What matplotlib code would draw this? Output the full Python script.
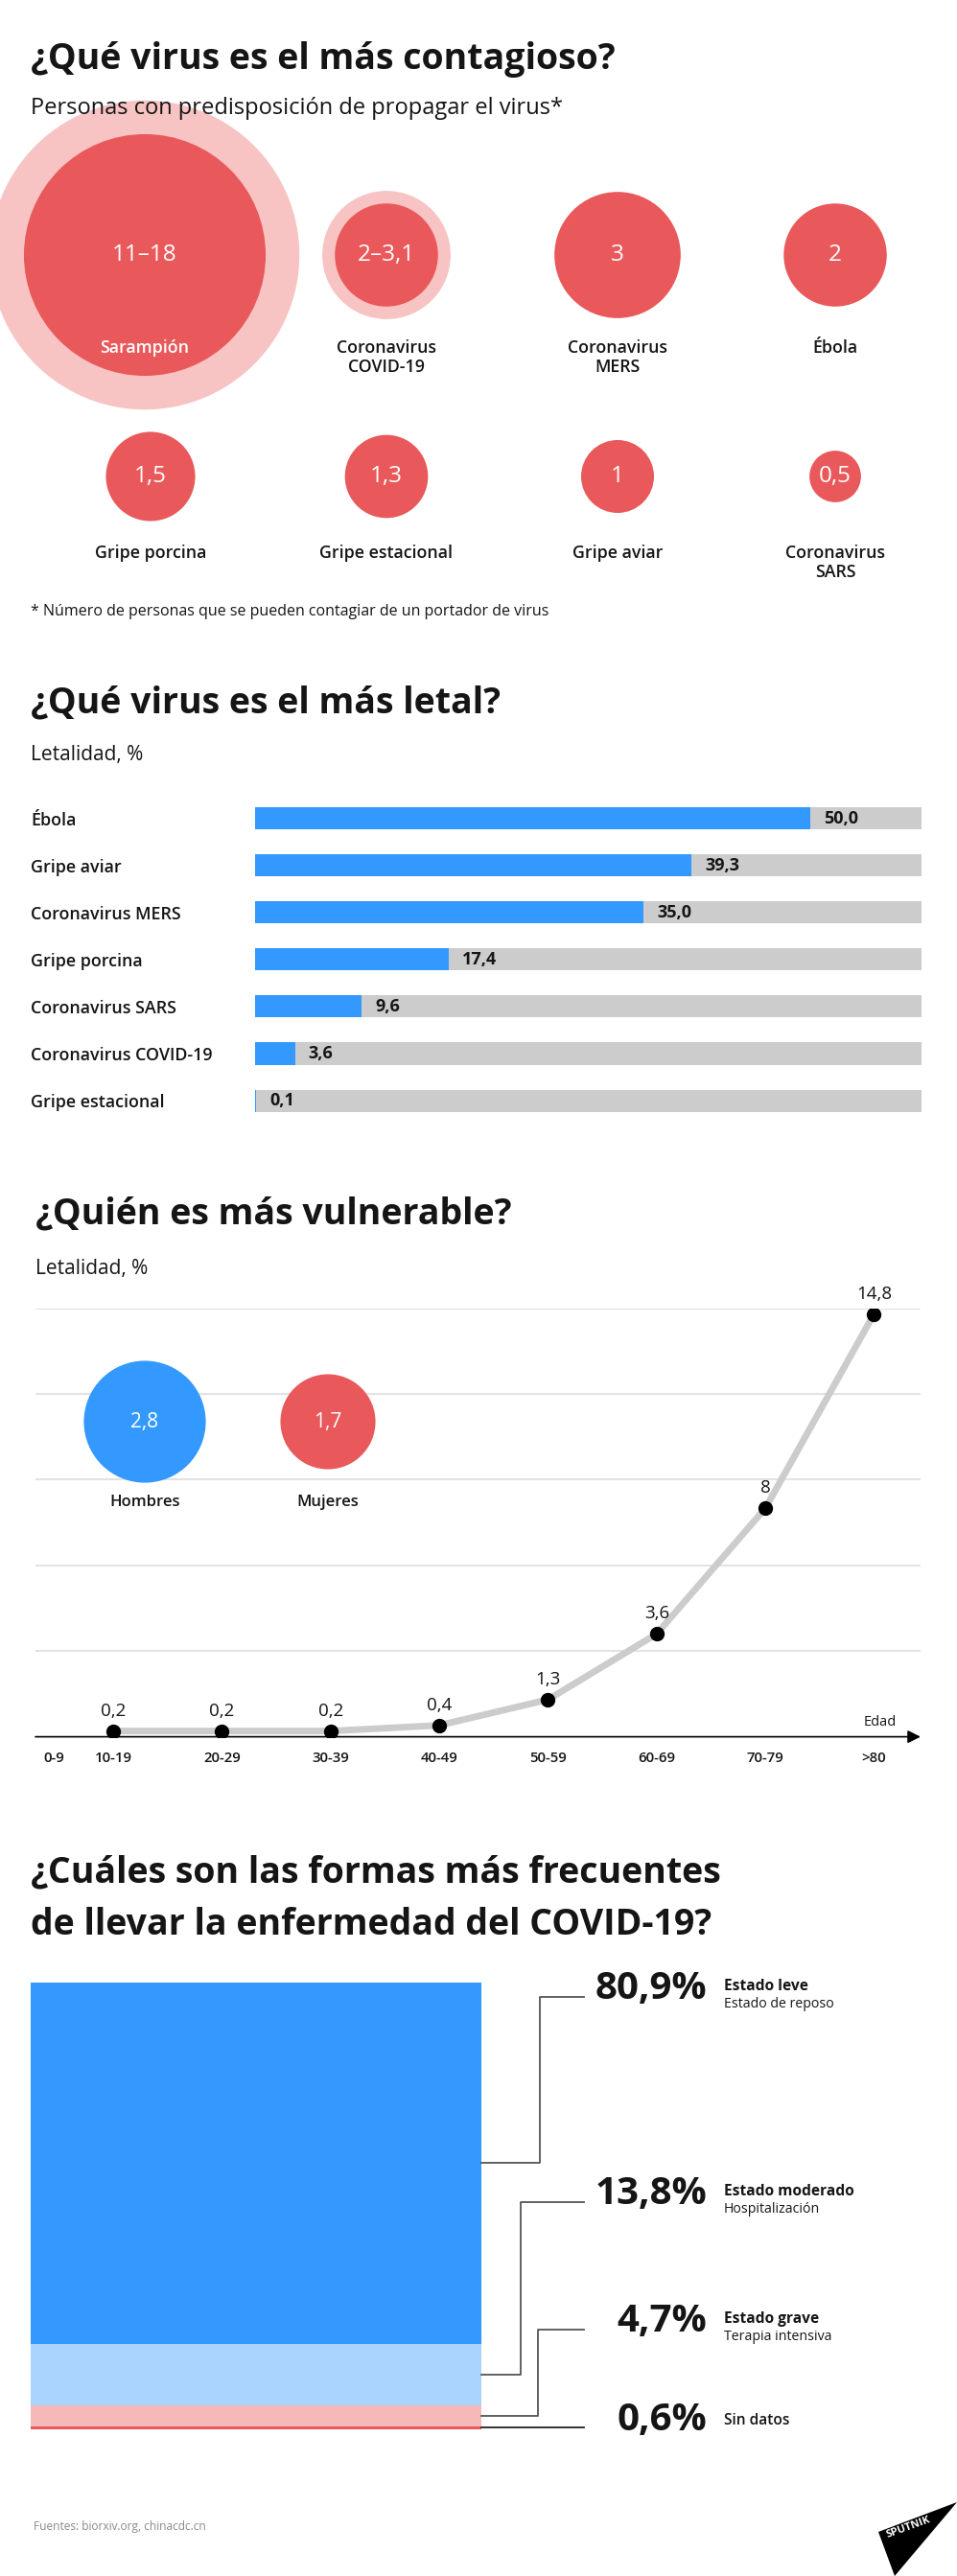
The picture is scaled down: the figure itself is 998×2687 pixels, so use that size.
import numpy as np
import matplotlib
matplotlib.use('Agg')
import matplotlib.pyplot as plt
from matplotlib.patches import Circle, Polygon

plt.rcParams['font.family'] = ['Open Sans', 'DejaVu Sans']

W, H = 998, 2687

## data
cont_names = ['Sarampión', 'Coronavirus\nCOVID-19', 'Coronavirus\nMERS', 'Ébola',
              'Gripe porcina', 'Gripe estacional', 'Gripe aviar', 'Coronavirus\nSARS']
cont_low = [11, 2, 3, 2, 1.5, 1.3, 1, 0.5]
cont_high = [18, 3.1, None, None, None, None, None, None]

let_names = ['Ébola', 'Gripe aviar', 'Coronavirus MERS', 'Gripe porcina',
             'Coronavirus SARS', 'Coronavirus COVID-19', 'Gripe estacional']
let_vals = [50.0, 39.3, 35.0, 17.4, 9.6, 3.6, 0.1]
let_max = 60

age_groups = ['0-9', '10-19', '20-29', '30-39', '40-49', '50-59', '60-69', '70-79', '>80']
age_vals = [0.2, 0.2, 0.2, 0.4, 1.3, 3.6, 8, 14.8]   # 10-19 ... >80 (0-9 no data)
sex_names = ['Hombres', 'Mujeres']
sex_vals = [2.8, 1.7]

form_pct = [80.9, 13.8, 4.7, 0.6]
form_names = ['Estado leve', 'Estado moderado', 'Estado grave', 'Sin datos']
form_sub = ['Estado de reposo', 'Hospitalización', 'Terapia intensiva', '']

BLUE = '#3399ff'
RED = '#e9585a'
PINK = '#f7c3c3'
INK = '#151515'
TITLE = 27


def fmt(v):
    return ('%g' % v).replace('.', ',')


fig = plt.figure(figsize=(W / 100, H / 100), dpi=100)
fig.patch.set_facecolor('white')


def px_axes(x0, y0, x1, y1):
    return fig.add_axes([x0 / W, 1 - y1 / H, (x1 - x0) / W, (y1 - y0) / H])


# overlay axes in pixel coordinates (texts, circles)
bg = fig.add_axes([0, 0, 1, 1])
bg.set_xlim(0, W)
bg.set_ylim(H, 0)
bg.axis('off')
bg.set_zorder(5)


def txt(x, y, s, size, weight='normal', color=INK, ha='left', va='center', **kw):
    bg.text(x, y, s, fontsize=size, fontweight=weight, color=color, ha=ha, va=va, **kw)


## 1. contagio
txt(32, 72, '¿Qué virus es el más contagioso?', TITLE, 'bold', va='baseline')
txt(32, 113, 'Personas con predisposición de propagar el virus*', 17)

R = 38  # px per sqrt(persona)
col_x = [[151, 403, 644, 871], [157, 403, 644, 871]]
row_y = [266, 497]
lab_y = [363, 577]
for i, name in enumerate(cont_names):
    r, c = divmod(i, 4)
    x, y = col_x[r][c], row_y[r]
    if cont_high[i] is not None:
        bg.add_patch(Circle((x, y), R * np.sqrt(cont_high[i]), color=PINK, lw=0, zorder=1))
        val = fmt(cont_low[i]) + '–' + fmt(cont_high[i])
    else:
        val = fmt(cont_low[i])
    bg.add_patch(Circle((x, y), R * np.sqrt(cont_low[i]), color=RED, lw=0, zorder=2))
    txt(x, y, val, 17.5, color='white', ha='center', zorder=3)
    lc = 'white' if i == 0 else INK
    for k, line in enumerate(name.split('\n')):
        txt(x, lab_y[r] + k * 20.5, line, 12.8, 'semibold', color=lc, ha='center', zorder=3)

txt(32, 638, '* Número de personas que se pueden contagiar de un portador de virus', 11.5)

## 2. letalidad
txt(32, 743, '¿Qué virus es el más letal?', TITLE, 'bold', va='baseline')
txt(32, 788, 'Letalidad, %', 15)

ax2 = px_axes(266, 829, 961, 1172.6)
ypos = np.arange(len(let_vals))
ax2.barh(ypos, [let_max] * len(let_vals), height=0.47, color='#cccccc')
ax2.barh(ypos, let_vals, height=0.47, color=BLUE)
for yy, v in zip(ypos, let_vals):
    ax2.text(v + 1.2, yy, ('%.1f' % v).replace('.', ','), va='center', ha='left',
             fontsize=13, fontweight='bold', color=INK)
ax2.set_xlim(0, let_max)
ax2.set_ylim(len(let_vals) - 0.5, -0.5)
ax2.set_xticks([])
ax2.set_yticks(ypos, let_names, fontsize=12.9, fontweight='semibold', color=INK)
ax2.tick_params(axis='y', length=0, pad=(266 - 32) * 0.72)
for lbl in ax2.get_yticklabels():
    lbl.set_ha('left')
for s in ax2.spines.values():
    s.set_visible(False)

## 3. vulnerable
txt(37, 1276, '¿Quién es más vulnerable?', TITLE, 'bold', va='baseline')
txt(37, 1323, 'Letalidad, %', 15)

ax3 = px_axes(37, 1364.6, 960, 1811.6)
xs = np.arange(1, len(age_vals) + 1)
ax3.plot(xs, age_vals, color='#cccccc', lw=5, solid_capstyle='round', zorder=2)
ax3.plot(xs, age_vals, 'o', color='black', ms=10, zorder=3)
for x, v in zip(xs, age_vals):
    ax3.annotate(fmt(v), (x, v), xytext=(0, 15), textcoords='offset points',
                 ha='center', va='center', fontsize=13.5, color=INK)
ax3.set_xlim(0.285, 8.428)
ax3.set_ylim(0, 15)
ax3.set_yticks(np.arange(3, 16, 3))
ax3.grid(axis='y', color='#e3e3e3', lw=1.5)
ax3.set_axisbelow(True)
ax3.set_xticks([0.453] + list(xs), age_groups, fontsize=10.8, fontweight='semibold', color=INK)
ax3.tick_params(axis='both', length=0, labelleft=False)
ax3.tick_params(axis='x', pad=11)
for s in ax3.spines.values():
    s.set_visible(False)
ax3.annotate('', xy=(1, 0), xytext=(0, 0), xycoords='axes fraction',
             arrowprops=dict(arrowstyle='-|>', color='black', lw=1.2,
                             mutation_scale=20, shrinkA=0, shrinkB=0))
txt(918, 1797, 'Edad', 10.5, ha='center')

sex_x = [151, 342]
sex_col = [BLUE, RED]
for x, name, v, c in zip(sex_x, sex_names, sex_vals, sex_col):
    bg.add_patch(Circle((x, 1483), R * np.sqrt(v), color=c, lw=0, zorder=2))
    txt(x, 1483, fmt(v), 15, color='white', ha='center', zorder=3)
    txt(x, 1567, name, 12, 'semibold', ha='center')

## 4. formas
txt(32, 1963, '¿Cuáles son las formas más frecuentes', TITLE, 'bold', va='baseline')
txt(32, 2018, 'de llevar la enfermedad del COVID-19?', TITLE, 'bold', va='baseline')

ax4 = px_axes(32, 2068, 502, 2533.5)
bottoms = np.concatenate([[0], np.cumsum(form_pct)[:-1]])
form_col = [BLUE, '#aad4fd', '#f6b8b8', RED]
ax4.bar([0] * len(form_pct), form_pct, bottom=bottoms, width=1, color=form_col)
ax4.set_xlim(-0.5, 0.5)
ax4.set_ylim(sum(form_pct), 0)
ax4.axis('off')

elbow_x = [563, 543, 561, 563]
end_y = [2083, 2296.6, 2429.6, None]
for i, p in enumerate(form_pct):
    x0, y0 = bg.transData.inverted().transform(
        ax4.transData.transform((0.5, bottoms[i] + p / 2)))
    ly = end_y[i] if end_y[i] is not None else y0
    lc = '#222222' if end_y[i] is None else '#555555'
    bg.plot([x0, elbow_x[i], elbow_x[i], 609], [y0, y0, ly, ly], color=lc, lw=1.3)
    ny = ly - 8
    txt(737, ny, fmt(p) + '%', 29, 'bold', ha='right')
    if form_sub[i]:
        txt(755, ny - 3, form_names[i], 11.2, 'bold')
        txt(755, ny + 16, form_sub[i], 10.2)
    else:
        txt(755, ny + 1, form_names[i], 11.2, 'semibold')

txt(35, 2635, 'Fuentes: biorxiv.org, chinacdc.cn', 8.6, color='#8a8a8a')

# logo
bg.add_patch(Polygon([(916, 2641), (998, 2610), (933, 2687)], closed=True,
                     color='black', lw=0, clip_on=False))
txt(947, 2636, 'SPUTNIK', 8, 'bold', color='white', ha='center', rotation=20)

plt.savefig('out.png', dpi=100)
